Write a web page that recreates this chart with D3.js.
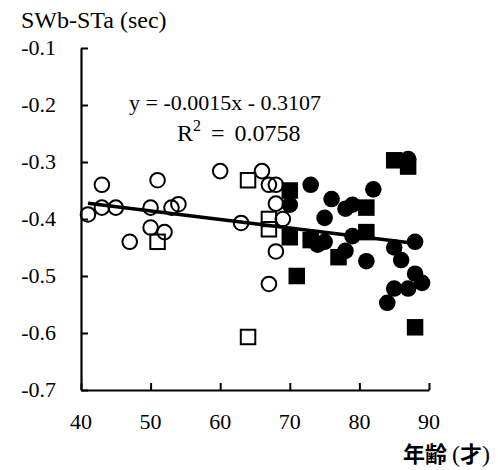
<!DOCTYPE html>
<html>
<head>
<meta charset="utf-8">
<script src="https://cdn.jsdelivr.net/npm/d3@7"></script>
<style>
  body { margin: 0; background: #fff; }
</style>
</head>
<body>
<svg id="chart" width="498" height="470"></svg>
<script>
// open circles
let openCircleX = [41, 43, 43, 45, 47, 50, 50, 51, 52, 53, 54, 60, 63, 66, 67, 68, 68, 69, 68, 67]
let openCircleY = [-0.392, -0.34, -0.38, -0.38, -0.44, -0.38, -0.415, -0.332, -0.423, -0.38, -0.374, -0.316, -0.407, -0.316, -0.34, -0.34, -0.373, -0.4, -0.457, -0.514]
// open squares
let openSquareX = [51, 64, 67, 67, 64]
let openSquareY = [-0.44, -0.332, -0.40, -0.418, -0.607]
// filled squares
let fillSquareX = [70, 70, 71, 73, 77, 81, 81, 85, 87, 88]
let fillSquareY = [-0.35, -0.432, -0.5, -0.437, -0.467, -0.38, -0.423, -0.297, -0.308, -0.59]
// filled circles
let fillCircleX = [70, 73, 74, 75, 75, 76, 78, 78, 79, 79, 81, 82, 87, 85, 86, 88, 88, 89, 85, 87, 84]
let fillCircleY = [-0.375, -0.34, -0.445, -0.398, -0.44, -0.365, -0.382, -0.456, -0.375, -0.43, -0.474, -0.348, -0.295, -0.45, -0.472, -0.44, -0.496, -0.512, -0.522, -0.522, -0.547]

let xTicks = [40, 50, 60, 70, 80, 90]
let yTicks = [-0.1, -0.2, -0.3, -0.4, -0.5, -0.6, -0.7]
let slope = -0.0015
let intercept = -0.3107

let serif = "Liberation Serif"
let gothic = "Noto Sans CJK JP"

let svg = d3.select("#chart")

let x = d3.scaleLinear().domain([40, 90]).range([81, 429])
let y = d3.scaleLinear().domain([-0.7, -0.1]).range([390, 48])

// axes, ticks pointing inward
let xAxis = svg.append("g")
    .attr("transform", "translate(0,390)")
    .call(d3.axisTop(x).tickValues(xTicks).tickSize(7).tickSizeOuter(0).tickFormat(""))
xAxis.select(".domain").attr("stroke-width", 2.2)
xAxis.selectAll(".tick line").attr("stroke-width", 2)

let yAxis = svg.append("g")
    .attr("transform", "translate(81,0)")
    .call(d3.axisRight(y).tickValues(yTicks).tickSize(7).tickSizeOuter(0).tickFormat(""))
yAxis.select(".domain").attr("stroke-width", 2.2)
yAxis.selectAll(".tick line").attr("stroke-width", 2)

svg.selectAll(".xlab").data(xTicks).enter()
    .append("text")
    .attr("class", "xlab")
    .attr("x", d => x(d))
    .attr("y", 429)
    .attr("text-anchor", "middle")
    .attr("font-family", serif)
    .attr("font-size", 22)
    .text(d => d)

svg.selectAll(".ylab").data(yTicks).enter()
    .append("text")
    .attr("class", "ylab")
    .attr("x", 56)
    .attr("y", d => y(d) + 7)
    .attr("text-anchor", "end")
    .attr("font-family", serif)
    .attr("font-size", 22)
    .text(d => d3.format(".1f")(d).replace("−", "-"))

// trend line
let allX = openCircleX.concat(openSquareX, fillSquareX, fillCircleX)
let [x0, x1] = d3.extent(allX)
svg.append("line")
    .attr("x1", x(x0)).attr("y1", y(slope * x0 + intercept))
    .attr("x2", x(x1)).attr("y2", y(slope * x1 + intercept))
    .attr("stroke", "#000")
    .attr("stroke-width", 3.5)

let r = 7.3
let s = 14.5

svg.selectAll(".oc").data(d3.zip(openCircleX, openCircleY)).enter()
    .append("circle")
    .attr("cx", d => x(d[0])).attr("cy", d => y(d[1])).attr("r", r)
    .attr("fill", "none").attr("stroke", "#000").attr("stroke-width", 2)

svg.selectAll(".os").data(d3.zip(openSquareX, openSquareY)).enter()
    .append("rect")
    .attr("x", d => x(d[0]) - s / 2).attr("y", d => y(d[1]) - s / 2)
    .attr("width", s).attr("height", s)
    .attr("fill", "none").attr("stroke", "#000").attr("stroke-width", 2)

svg.selectAll(".fs").data(d3.zip(fillSquareX, fillSquareY)).enter()
    .append("rect")
    .attr("x", d => x(d[0]) - (s + 2) / 2).attr("y", d => y(d[1]) - (s + 2) / 2)
    .attr("width", s + 2).attr("height", s + 2)
    .attr("fill", "#000")

svg.selectAll(".fc").data(d3.zip(fillCircleX, fillCircleY)).enter()
    .append("circle")
    .attr("cx", d => x(d[0])).attr("cy", d => y(d[1])).attr("r", r + 1)
    .attr("fill", "#000")

// labels
svg.append("text")
    .attr("x", 21).attr("y", 28)
    .attr("font-family", serif)
    .attr("font-size", 24)
    .text("SWb-STa (sec)")

svg.append("text")
    .attr("x", 129).attr("y", 110)
    .attr("font-family", serif)
    .attr("font-size", 22)
    .text("y = -0.0015x - 0.3107")

let r2 = svg.append("text")
    .attr("x", 177).attr("y", 141)
    .attr("font-family", serif)
    .attr("font-size", 24)
    .attr("word-spacing", 4)
r2.append("tspan").text("R")
r2.append("tspan").attr("dy", -10).attr("font-size", 16).text("2")
r2.append("tspan").attr("dy", 10).text(" = 0.0758")

let xt = svg.append("text")
    .attr("x", 490).attr("y", 462)
    .attr("text-anchor", "end")
    .attr("font-size", 22)
xt.append("tspan")
    .attr("font-family", gothic)
    .attr("font-weight", "bold")
    .text("年齢 ")
xt.append("tspan")
    .attr("font-family", serif)
    .attr("font-size", 24)
    .text("(")
xt.append("tspan")
    .attr("font-family", gothic)
    .attr("font-weight", "bold")
    .text("才")
xt.append("tspan")
    .attr("font-family", serif)
    .attr("font-size", 24)
    .text(")")
</script>
</body>
</html>
